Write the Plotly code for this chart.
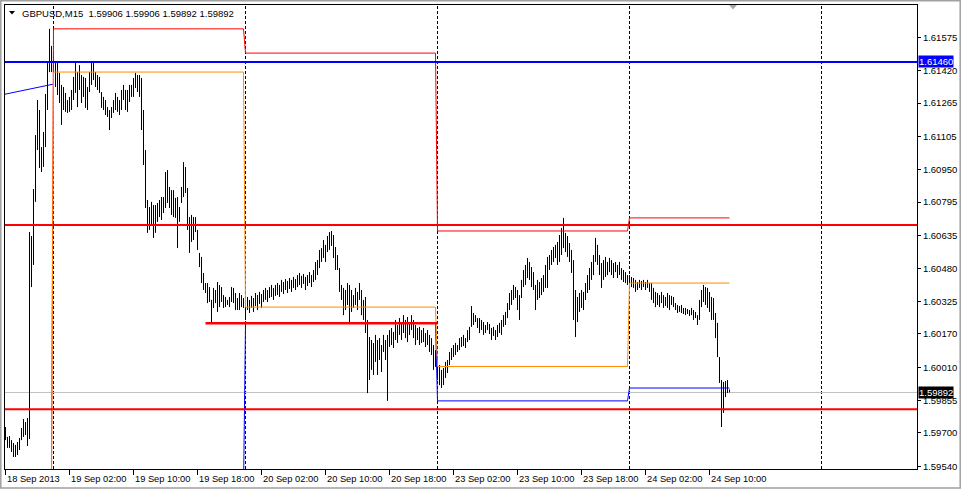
import plotly.graph_objects as go

# ---------------- data (GBPUSD M15, bar index 0 = 18 Sep 2013 18:00) ----------------
high = [
 1.59728, 1.59681, 1.59685, 1.59666, 1.59652, 1.59643, 1.59657, 1.59676, 1.59723, 1.59766,
 1.59752, 1.59771, 1.60653, 1.60634, 1.60857, 1.61113, 1.61279, 1.61232, 1.61056, 1.61128,
 1.61308, 1.61464, 1.61617, 1.61536, 1.61502, 1.61460, 1.61460, 1.61408, 1.61351, 1.61341,
 1.61313, 1.61279, 1.61294, 1.61327, 1.61389, 1.61455, 1.61412, 1.61445, 1.61398, 1.61389,
 1.61384, 1.61341, 1.61412, 1.61455, 1.61460, 1.61412, 1.61398, 1.61389, 1.61317, 1.61294,
 1.61279, 1.61246, 1.61232, 1.61246, 1.61279, 1.61313, 1.61294, 1.61279, 1.61327, 1.61351,
 1.61327, 1.61327, 1.61351, 1.61351, 1.61384, 1.61408, 1.61398, 1.61398, 1.61384, 1.61232,
 1.61042, 1.60805, 1.60772, 1.60796, 1.60781, 1.60781, 1.60791, 1.60805, 1.60819, 1.60819,
 1.60938, 1.60947, 1.60867, 1.60852, 1.60852, 1.60815, 1.60819, 1.60772, 1.60867, 1.60985,
 1.60962, 1.60862, 1.60724, 1.60734, 1.60724, 1.60724, 1.60663, 1.60554, 1.60535, 1.60459,
 1.60411, 1.60411, 1.60392, 1.60331, 1.60388, 1.60378, 1.60416, 1.60402, 1.60392, 1.60354,
 1.60345, 1.60331, 1.60345, 1.60392, 1.60388, 1.60364, 1.60340, 1.60364, 1.60354, 1.60340,
 1.60331, 1.60345, 1.60331, 1.60350, 1.60340, 1.60364, 1.60354, 1.60369, 1.60359, 1.60378,
 1.60388, 1.60378, 1.60392, 1.60402, 1.60388, 1.60402, 1.60411, 1.60402, 1.60426, 1.60416,
 1.60430, 1.60421, 1.60435, 1.60426, 1.60440, 1.60430, 1.60449, 1.60459, 1.60445, 1.60454,
 1.60440, 1.60449, 1.60463, 1.60449, 1.60473, 1.60511, 1.60520, 1.60568, 1.60577, 1.60615,
 1.60592, 1.60634, 1.60653, 1.60658, 1.60639, 1.60582, 1.60544, 1.60482, 1.60402, 1.60388,
 1.60378, 1.60411, 1.60402, 1.60378, 1.60354, 1.60388, 1.60369, 1.60411, 1.60378, 1.60331,
 1.60345, 1.60236, 1.60155, 1.60141, 1.60127, 1.60165, 1.60141, 1.60150, 1.60117, 1.60165,
 1.60141, 1.60165, 1.60188, 1.60198, 1.60179, 1.60236, 1.60212, 1.60245, 1.60226, 1.60259,
 1.60236, 1.60250, 1.60226, 1.60259, 1.60236, 1.60212, 1.60198, 1.60203, 1.60188, 1.60198,
 1.60174, 1.60188, 1.60165, 1.60150, 1.60117, 1.60093, 1.60060, 1.60022, 1.59999, 1.60008,
 1.60037, 1.60046, 1.60084, 1.60103, 1.60117, 1.60127, 1.60117, 1.60150, 1.60155, 1.60165,
 1.60150, 1.60188, 1.60203, 1.60302, 1.60269, 1.60259, 1.60245, 1.60245, 1.60236, 1.60226,
 1.60212, 1.60226, 1.60217, 1.60198, 1.60203, 1.60188, 1.60212, 1.60222, 1.60236, 1.60259,
 1.60274, 1.60316, 1.60364, 1.60378, 1.60402, 1.60392, 1.60378, 1.60354, 1.60426, 1.60473,
 1.60497, 1.60530, 1.60511, 1.60487, 1.60463, 1.60402, 1.60426, 1.60416, 1.60435, 1.60449,
 1.60497, 1.60535, 1.60544, 1.60568, 1.60582, 1.60592, 1.60606, 1.60639, 1.60672, 1.60720,
 1.60649, 1.60634, 1.60601, 1.60568, 1.60520, 1.60378, 1.60345, 1.60364, 1.60378, 1.60369,
 1.60411, 1.60449, 1.60482, 1.60511, 1.60544, 1.60625, 1.60592, 1.60544, 1.60506, 1.60520,
 1.60535, 1.60511, 1.60530, 1.60520, 1.60506, 1.60511, 1.60497, 1.60511, 1.60482, 1.60473,
 1.60463, 1.60449, 1.60449, 1.60440, 1.60435, 1.60426, 1.60416, 1.60426, 1.60421, 1.60426,
 1.60416, 1.60426, 1.60411, 1.60411, 1.60388, 1.60369, 1.60364, 1.60354, 1.60369, 1.60354,
 1.60345, 1.60364, 1.60354, 1.60350, 1.60345, 1.60316, 1.60307, 1.60302, 1.60307, 1.60293,
 1.60293, 1.60288, 1.60283, 1.60293, 1.60283, 1.60274, 1.60259, 1.60331, 1.60378, 1.60402,
 1.60392, 1.60388, 1.60369, 1.60345, 1.60340, 1.60269, 1.60222, 1.60060, 1.59951, 1.59942,
 1.59946, 1.59951, 1.59906,
]
low = [
 1.59666, 1.59629, 1.59629, 1.59610, 1.59586, 1.59586, 1.59595, 1.59619, 1.59666, 1.59681,
 1.59690, 1.59638, 1.59671, 1.60392, 1.60497, 1.60796, 1.61042, 1.60957, 1.60938, 1.60962,
 1.61056, 1.61232, 1.61412, 1.61412, 1.61384, 1.61341, 1.61303, 1.61265, 1.61161, 1.61232,
 1.61223, 1.61218, 1.61223, 1.61232, 1.61279, 1.61313, 1.61246, 1.61327, 1.61265, 1.61294,
 1.61242, 1.61232, 1.61317, 1.61351, 1.61374, 1.61341, 1.61327, 1.61313, 1.61242, 1.61232,
 1.61208, 1.61199, 1.61137, 1.61194, 1.61218, 1.61232, 1.61223, 1.61208, 1.61232, 1.61279,
 1.61232, 1.61223, 1.61270, 1.61294, 1.61294, 1.61336, 1.61317, 1.61294, 1.61137, 1.60971,
 1.60767, 1.60649, 1.60663, 1.60686, 1.60625, 1.60649, 1.60701, 1.60724, 1.60710, 1.60743,
 1.60767, 1.60791, 1.60767, 1.60734, 1.60724, 1.60720, 1.60577, 1.60701, 1.60791, 1.60819,
 1.60838, 1.60663, 1.60554, 1.60606, 1.60615, 1.60653, 1.60568, 1.60487, 1.60411, 1.60378,
 1.60364, 1.60316, 1.60321, 1.60222, 1.60293, 1.60316, 1.60274, 1.60297, 1.60321, 1.60293,
 1.60297, 1.60307, 1.60297, 1.60321, 1.60316, 1.60283, 1.60283, 1.60283, 1.60297, 1.60293,
 1.60236, 1.60283, 1.60269, 1.60293, 1.60274, 1.60302, 1.60283, 1.60312, 1.60293, 1.60321,
 1.60331, 1.60321, 1.60340, 1.60345, 1.60331, 1.60350, 1.60354, 1.60345, 1.60369, 1.60359,
 1.60378, 1.60364, 1.60383, 1.60369, 1.60388, 1.60378, 1.60392, 1.60402, 1.60388, 1.60407,
 1.60378, 1.60397, 1.60411, 1.60392, 1.60416, 1.60426, 1.60449, 1.60482, 1.60511, 1.60530,
 1.60511, 1.60558, 1.60568, 1.60587, 1.60530, 1.60473, 1.60473, 1.60369, 1.60331, 1.60259,
 1.60283, 1.60307, 1.60222, 1.60274, 1.60293, 1.60307, 1.60283, 1.60331, 1.60259, 1.60236,
 1.60174, 1.59889, 1.59951, 1.59999, 1.59975, 1.60037, 1.59975, 1.60046, 1.59989, 1.60084,
 1.60046, 1.59852, 1.60108, 1.60117, 1.60103, 1.60141, 1.60127, 1.60165, 1.60141, 1.60174,
 1.60150, 1.60131, 1.60165, 1.60188, 1.60150, 1.60117, 1.60141, 1.60117, 1.60127, 1.60131,
 1.60108, 1.60117, 1.60084, 1.60070, 1.59999, 1.60013, 1.59951, 1.59927, 1.59913, 1.59927,
 1.59961, 1.59984, 1.60022, 1.60046, 1.60060, 1.60070, 1.60084, 1.60093, 1.60108, 1.60112,
 1.60103, 1.60131, 1.60141, 1.60203, 1.60212, 1.60226, 1.60198, 1.60174, 1.60188, 1.60165,
 1.60174, 1.60188, 1.60169, 1.60141, 1.60160, 1.60141, 1.60155, 1.60174, 1.60165, 1.60203,
 1.60212, 1.60245, 1.60283, 1.60307, 1.60331, 1.60340, 1.60283, 1.60236, 1.60340, 1.60392,
 1.60402, 1.60435, 1.60426, 1.60392, 1.60378, 1.60283, 1.60331, 1.60340, 1.60354, 1.60369,
 1.60388, 1.60388, 1.60473, 1.60497, 1.60511, 1.60530, 1.60497, 1.60511, 1.60544, 1.60577,
 1.60558, 1.60535, 1.60511, 1.60459, 1.60236, 1.60155, 1.60226, 1.60274, 1.60293, 1.60283,
 1.60331, 1.60364, 1.60378, 1.60426, 1.60449, 1.60511, 1.60497, 1.60449, 1.60388, 1.60426,
 1.60440, 1.60449, 1.60463, 1.60449, 1.60435, 1.60463, 1.60435, 1.60449, 1.60426, 1.60416,
 1.60411, 1.60402, 1.60402, 1.60392, 1.60388, 1.60369, 1.60378, 1.60388, 1.60378, 1.60392,
 1.60378, 1.60388, 1.60369, 1.60331, 1.60316, 1.60297, 1.60307, 1.60297, 1.60316, 1.60293,
 1.60302, 1.60293, 1.60283, 1.60307, 1.60297, 1.60283, 1.60269, 1.60274, 1.60269, 1.60264,
 1.60259, 1.60264, 1.60255, 1.60259, 1.60236, 1.60245, 1.60212, 1.60236, 1.60297, 1.60321,
 1.60307, 1.60293, 1.60274, 1.60236, 1.60236, 1.60150, 1.60060, 1.59937, 1.59728, 1.59795,
 1.59870, 1.59889, 1.59892,
]

# daily levels indicator (previous day high / close / low), first & last bar index of each day
day_first = [24, 120, 216, 312]
day_last = [119, 215, 311, 362]
prev_high = [1.61617, 1.61502, 1.60658, 1.60720]
prev_close = [1.61412, 1.60297, 1.60015, 1.60411]
prev_low = [1.59430, 1.60220, 1.59852, 1.59913]
pre_high, pre_close, pre_low = 1.59500, 1.59460, 1.59400   # 18 Sep levels (below the visible range)

# trend line (two anchor points)
trend_x = [-0.25, 23.6]
trend_y = [1.61307, 1.61354]

# horizontal price levels
level_blue = 1.61460
level_red_hi = 1.60686
level_red_lo = 1.59812
short_red_level = 1.60220
short_red_from, short_red_to = 100, 216
bid_price = 1.59892

separators = [24, 120, 216, 312, 408]
x_tick_idx = [0, 32, 64, 96, 128, 160, 192, 224, 256, 288, 320, 352]
x_tick_text = ["18 Sep 2013", "19 Sep 02:00", "19 Sep 10:00", "19 Sep 18:00", "20 Sep 02:00",
               "20 Sep 10:00", "20 Sep 18:00", "23 Sep 02:00", "23 Sep 10:00", "23 Sep 18:00",
               "24 Sep 02:00", "24 Sep 10:00"]
y_ticks = [1.61575, 1.61420, 1.61265, 1.61105, 1.60950, 1.60795, 1.60635, 1.60480,
           1.60325, 1.60170, 1.60010, 1.59855, 1.59700, 1.59540]

title_text = "GBPUSD,M15\u00a0\u00a01.59906 1.59906 1.59892 1.59892"
FONT = "Liberation Sans, Arial, sans-serif"

# ---------------- figure ----------------
n = min(len(high), len(low))
bx, by = [], []
for i in range(n):
    bx += [i, i, None]
    by += [low[i], high[i], None]


def steps(pre, vals):
    xs, ys = [-2, day_first[0] - 1], [pre, pre]
    for f, l, v in zip(day_first, day_last, vals):
        xs += [f, l]
        ys += [v, v]
    return xs, ys


fig = go.Figure()
fig.add_trace(go.Scatter(x=bx, y=by, mode="lines", line=dict(color="black", width=1),
                         hoverinfo="skip", showlegend=False))
for pre, vals, col in [(pre_low, prev_low, "#0000ff"), (pre_high, prev_high, "#ff0000"),
                       (pre_close, prev_close, "#ff8c00")]:
    xs, ys = steps(pre, vals)
    fig.add_trace(go.Scatter(x=xs, y=ys, mode="lines", line=dict(color=col, width=1),
                             hoverinfo="skip", showlegend=False))
fig.add_trace(go.Scatter(x=trend_x, y=trend_y, mode="lines", line=dict(color="#0000ff", width=1),
                         hoverinfo="skip", showlegend=False))

shapes = []
for s in separators:
    shapes.append(dict(type="line", xref="x", yref="paper", x0=s, x1=s, y0=0, y1=1,
                       line=dict(color="black", width=1, dash="3px,2px"), layer="below"))
shapes.append(dict(type="line", xref="paper", yref="y", x0=0, x1=1, y0=bid_price, y1=bid_price,
                   line=dict(color="#c0c0c0", width=1), layer="below"))
for lvl, col in [(level_blue, "#0000ff"), (level_red_hi, "#ff0000"), (level_red_lo, "#ff0000")]:
    shapes.append(dict(type="line", xref="paper", yref="y", x0=0, x1=1, y0=lvl, y1=lvl,
                       line=dict(color=col, width=2), layer="above"))
shapes.append(dict(type="line", xref="x", yref="y", x0=short_red_from, x1=short_red_to,
                   y0=short_red_level, y1=short_red_level,
                   line=dict(color="#ff0000", width=2.5), layer="above"))


def px(xp):
    return (xp - 5) / 912.0


def py(yp):
    return (469 - yp) / 464.0


# small triangles (menu marker and chart-shift marker)
shapes.append(dict(type="path", xref="paper", yref="paper",
                   path=f"M {px(9)},{py(11)} L {px(15)},{py(11)} L {px(12)},{py(14.5)} Z",
                   fillcolor="black", line=dict(width=0)))
shapes.append(dict(type="path", xref="paper", yref="paper",
                   path=f"M {px(729)},{py(5)} L {px(737)},{py(5)} L {px(733)},{py(9.5)} Z",
                   fillcolor="#a8a8a8", line=dict(width=0)))
# window border
shapes.append(dict(type="rect", xref="paper", yref="paper", x0=px(0.8), x1=px(960.2),
                   y0=py(488), y1=py(0.8), line=dict(color="#a0a0a0", width=1.5),
                   fillcolor="rgba(0,0,0,0)", layer="below"))

annotations = []
for xi, t in zip(x_tick_idx, x_tick_text):
    annotations.append(dict(x=xi, xref="x", y=0, yref="paper", xanchor="left", yanchor="top",
                            yshift=-3, xshift=-1, text=t, showarrow=False,
                            font=dict(family=FONT, size=9.3, color="black")))
annotations.append(dict(x=px(20), xref="paper", y=py(13), yref="paper", xanchor="left",
                        yanchor="middle", text=title_text, showarrow=False,
                        font=dict(family=FONT, size=9.5, color="black")))
for lvl, bg in [(level_blue, "#0000ff"), (bid_price, "#000000")]:
    annotations.append(dict(x=1, xref="paper", y=lvl, yref="y", xanchor="left", yanchor="middle",
                            xshift=1, text=f"{lvl:.5f}", showarrow=False, bgcolor=bg,
                            borderpad=0, font=dict(family=FONT, size=9.5, color="white")))

fig.update_layout(
    width=962, height=490,
    margin=dict(l=5, r=45, t=5, b=21),
    paper_bgcolor="white", plot_bgcolor="white",
    showlegend=False, hovermode=False,
    shapes=shapes, annotations=annotations,
    xaxis=dict(range=[-0.25, 455.75], showgrid=False, zeroline=False,
               tickmode="array", tickvals=x_tick_idx, showticklabels=False,
               ticks="outside", ticklen=5, tickcolor="black", tickwidth=1,
               showline=True, mirror=True, linecolor="black", linewidth=1),
    yaxis=dict(range=[1.595289, 1.617301], side="right", showgrid=False, zeroline=False,
               tickmode="array", tickvals=y_ticks, ticktext=[f"{v:.5f}" for v in y_ticks],
               ticks="outside", ticklen=3, tickcolor="black", tickwidth=1,
               tickfont=dict(family=FONT, size=9.5, color="black"),
               showline=True, mirror=True, linecolor="black", linewidth=1),
)

fig.write_html("out.html", config={"displayModeBar": False},
               post_script="document.body.style.margin='0px';document.body.style.overflow='hidden';")
